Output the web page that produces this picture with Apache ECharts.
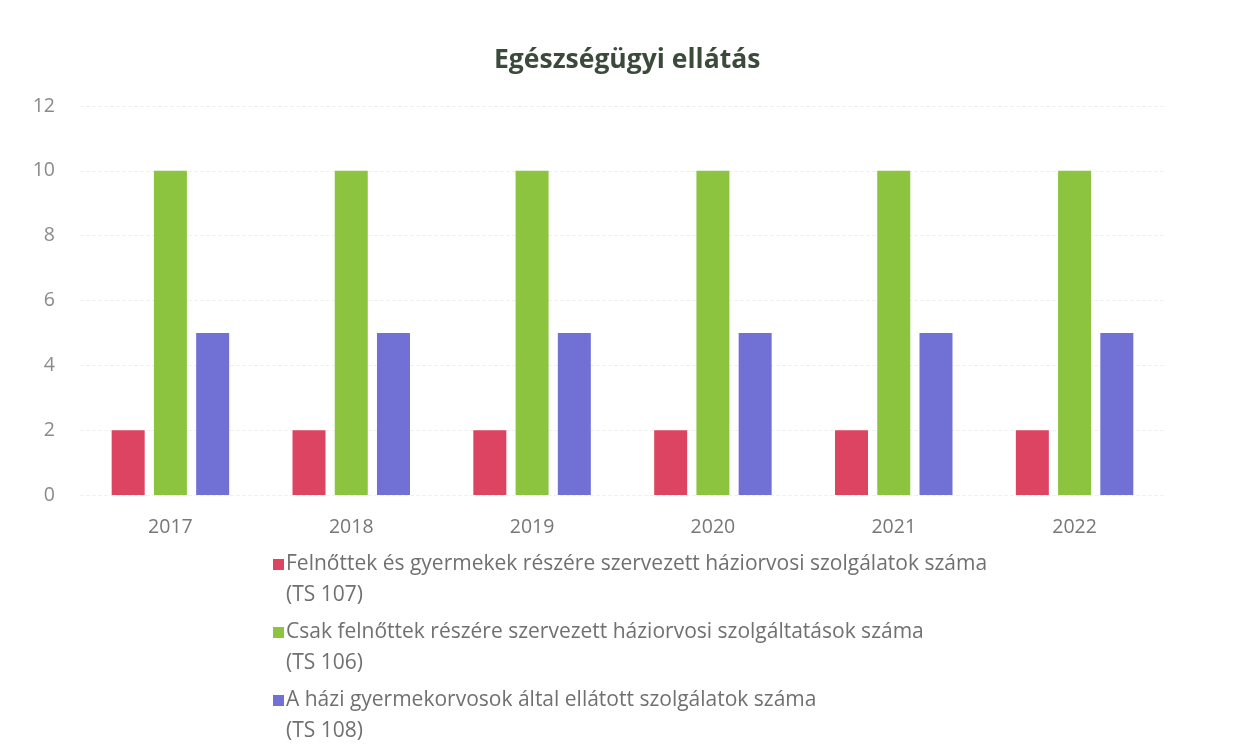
<!DOCTYPE html>
<html>
<head>
<meta charset="utf-8">
<script src="https://cdn.jsdelivr.net/npm/echarts@6/dist/echarts.min.js"></script>
<style>
  html, body { margin: 0; padding: 0; background: #fff; }
  #chart { width: 1234px; height: 755px; }
</style>
</head>
<body>
<div id="chart"></div>
<script>
// adatok
var years = ['2017', '2018', '2019', '2020', '2021', '2022'];
var seriesNames = [
    'Felnőttek és gyermekek részére szervezett háziorvosi szolgálatok száma\n(TS 107)',
    'Csak felnőttek részére szervezett háziorvosi szolgáltatások száma\n(TS 106)',
    'A házi gyermekorvosok által ellátott szolgálatok száma\n(TS 108)'
];
var ts107 = [2, 2, 2, 2, 2, 2];
var ts106 = [10, 10, 10, 10, 10, 10];
var ts108 = [5, 5, 5, 5, 5, 5];
var colors = ['#dc4461', '#8cc43f', '#7170d5'];

var chart = echarts.init(document.getElementById('chart'));

var font = '"Open Sans", "Noto Sans", sans-serif';
// négyzet az első sor magasságában (a kétsoros felirat tetején)
var topSquare = 'path://M0,0h11v11h-11z M0,41.99h0.01v0.01h-0.01z';

var option = {
    backgroundColor: '#fff',
    color: colors,
    title: {
        text: 'Egészségügyi ellátás',
        left: 489,
        top: 42,
        textStyle: {
            fontFamily: font,
            fontSize: 26.5,
            fontWeight: 'bold',
            color: '#3b4a3b'
        }
    },
    grid: {
        left: 80,
        right: 69,
        top: 106,
        bottom: 260
    },
    legend: {
        orient: 'vertical',
        left: 268,
        top: 544,
        height: 211,
        itemWidth: 11,
        itemHeight: 42,
        itemGap: 6,
        icon: topSquare,
        textStyle: {
            fontFamily: font,
            fontSize: 21,
            color: '#707070',
            lineHeight: 31,
            padding: [0, 0, 0, -3]
        },
        data: seriesNames
    },
    xAxis: {
        type: 'category',
        data: years,
        axisLine: { show: false },
        axisTick: { show: false },
        axisLabel: {
            margin: 22,
            fontFamily: font,
            fontSize: 19.5,
            color: '#777'
        }
    },
    yAxis: {
        type: 'value',
        min: 0,
        max: 12,
        interval: 2,
        axisLabel: {
            margin: 25,
            fontFamily: font,
            fontSize: 19.5,
            color: '#8a8a8a'
        },
        splitLine: {
            lineStyle: { color: '#f1f1f1', type: 'dashed' }
        }
    },
    series: [
        { name: seriesNames[0], type: 'bar', data: ts107, barWidth: 33, barGap: '28%' },
        { name: seriesNames[1], type: 'bar', data: ts106, barWidth: 33, barGap: '28%' },
        { name: seriesNames[2], type: 'bar', data: ts108, barWidth: 33, barGap: '28%' }
    ]
};

chart.setOption(option);
</script>
</body>
</html>
